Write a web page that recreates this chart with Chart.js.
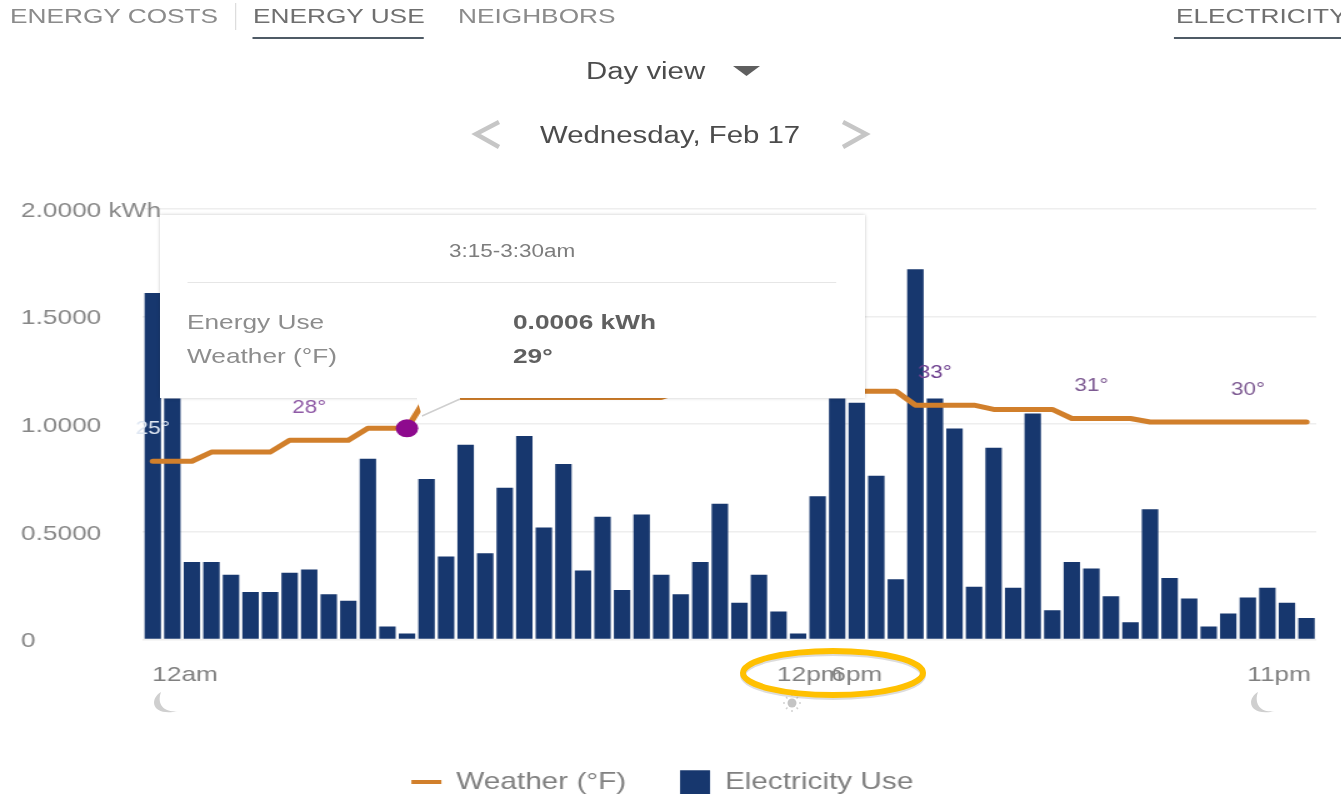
<!DOCTYPE html>
<html><head><meta charset="utf-8">
<script src="https://cdn.jsdelivr.net/npm/chart.js@4"></script>
<style>
html,body{margin:0;padding:0;background:#fff;overflow:hidden;width:1341px;height:804px}
#stretch{position:absolute;left:0;top:0;width:1073px;height:804px;transform:scaleX(1.25);transform-origin:0 0;filter:blur(.55px);font-family:"Liberation Sans",Arial,sans-serif;overflow:hidden}
canvas{position:absolute;left:0;top:0}
.t{position:absolute;white-space:nowrap;line-height:1;transform:translateY(-50%)}
.tab{font-size:21px;color:#8b8b8b}
.nav{font-size:23.5px;color:#4c4c4c}
.rule{position:absolute;height:2px;background:#4f5b66}
#tip{position:absolute;left:calc(160px/1.25);top:215px;width:calc(705px/1.25);height:183px;background:#fff;box-shadow:0 0 3px rgba(0,0,0,.22)}
.tipl{font-size:21px;color:#8d8d8d}
.tipv{font-size:21px;font-weight:bold;color:#606060}
#marks{position:absolute;left:0;top:0}
</style></head>
<body>
<div id="stretch">
  <canvas id="c" width="1073" height="804"></canvas>
  <div id="tip"></div>
  <div class="t tab" style="left:calc(10px/1.25);top:15px">ENERGY COSTS</div>
  <div class="t tab" style="left:calc(253px/1.25);top:15px;color:#6f6f6f">ENERGY USE</div>
  <div class="t tab" style="left:calc(458px/1.25);top:15px">NEIGHBORS</div>
  <div class="t tab" style="left:calc(1176px/1.25);top:15px;color:#6f6f6f">ELECTRICITY</div>
  <div class="rule" style="left:calc(253px/1.25);width:calc(171px/1.25);top:37px"></div>
  <div class="rule" style="left:calc(1174px/1.25);width:calc(167px/1.25);top:37px"></div>
  <div style="position:absolute;left:calc(235px/1.25);top:3px;width:1px;height:27px;background:#ddd"></div>
  <div class="t nav" style="left:calc(586px/1.25);top:72px">Day view</div>
  <div class="t nav" style="left:calc(540px/1.25);top:136px">Wednesday, Feb 17</div>
  <div class="t" style="left:calc(449px/1.25);top:251px;font-size:18px;color:#7d7d7d">3:15-3:30am</div>
  <div style="position:absolute;left:calc(188px/1.25);top:282px;width:calc(648px/1.25);height:1px;background:#e6e6e6"></div>
  <div class="t tipl" style="left:calc(187px/1.25);top:321px">Energy Use</div>
  <div class="t tipl" style="left:calc(187px/1.25);top:355px">Weather (°F)</div>
  <div class="t tipv" style="left:calc(513px/1.25);top:321px">0.0006 kWh</div>
  <div class="t tipv" style="left:calc(513px/1.25);top:355px">29°</div>
</div>
<svg id="marks" width="1341" height="804" viewBox="0 0 1341 804" fill="none">
  <path d="M733 66H760L746.5 76Z" fill="#5f5f5f"/>
  <path d="M499 122L476 134L499 147" stroke="#c6c6c6" stroke-width="4.5"/>
  <path d="M843 122L866 134L843 147" stroke="#c6c6c6" stroke-width="4.5"/>
  <path d="M417 397V399L422 416L460 399V397Z" fill="#fff"/>
  <path d="M422 416L460 399" stroke="#cfcfcf" stroke-width="1.5"/>
  <path d="M161 692C148 700 153 717 178 711C166 713 156 706 161 692Z" fill="#cfcfcf"/>
  <path d="M1258 692C1245 700 1250 717 1275 711C1263 713 1253 706 1258 692Z" fill="#cfcfcf"/>
  <circle cx="792" cy="703" r="4.5" fill="#c4c4c4"/>
  <path d="M792 694v2M792 710v2M783 703h2M799 703h2M786 697l1.5 1.5M798 697l-1.5 1.5M786 709l1.5-1.5M798 709l-1.5-1.5" stroke="#d2d2d2" stroke-width="1.5"/>
  <ellipse cx="833" cy="675" rx="90" ry="22" stroke="#9a9a9a" stroke-opacity=".35" stroke-width="6"/>
  <ellipse cx="833" cy="673" rx="90" ry="22" stroke="#ffc000" stroke-width="6"/>
</svg>
<script>
const categories = Array.from({length:60},(_,i)=>{
  const h=Math.floor(i/4),m=(i%4)*15;
  return (h%12||12)+':'+String(m).padStart(2,'0')+(h<12?'am':'pm');
});
const energyUse = [1.61,1.12,0.36,0.36,0.30,0.22,0.22,0.31,0.325,0.21,0.18,0.84,0.06,0.027,0.745,0.385,0.905,0.40,0.705,0.945,
  0.52,0.815,0.32,0.57,0.23,0.58,0.30,0.21,0.36,0.63,0.17,0.30,0.13,0.027,0.665,1.12,1.10,0.76,0.28,1.72,
  1.12,0.98,0.245,0.89,0.24,1.05,0.135,0.36,0.33,0.20,0.08,0.605,0.285,0.19,0.06,0.12,0.195,0.24,0.17,0.10];
const weatherF = [25,25,25,26.3,26.3,26.3,26.3,28,28,28,28,29.7,29.7,29.7,34.1,34.1,34.1,34.1,34.1,34.1,
  34.1,34.1,34.1,34.1,34.1,34.1,34.1,35,35,35,35,35,35,35,35,35,35,35,35,33,
  33,33,33,32.4,32.4,32.4,32.4,31.1,31.1,31.1,31.1,30.6,30.6,30.6,30.6,30.6,30.6,30.6,30.6,30.6];
const tempLabels = [{i:0,t:'25°',c:'#dfe7f3'},{i:8,t:'28°',c:'#8f5aa6'},{i:40,t:'33°',c:'#6d3f8e'},{i:48,t:'31°',c:'#7d5a92'},{i:56,t:'30°',c:'#7d5a92'}];
const hoverIndex = 13;
const timeTicks = [{v:1.65,t:'12am'},{v:33.6,t:'12pm'},{v:36,t:'6pm'},{v:57.6,t:'11pm'}];
const FONT='"Liberation Sans",Arial,sans-serif';
const tempLabelPlugin={id:'tempLabels',
  afterLayout(chart){chart.legend.left-=5;chart.legend.right-=5;},
  afterDatasetsDraw(chart){
  const {ctx,scales}=chart;ctx.save();
  ctx.font='18px '+FONT;ctx.textAlign='center';ctx.textBaseline='middle';
  tempLabels.forEach(l=>{ctx.fillStyle=l.c;
    ctx.fillText(l.t,scales.x.getPixelForValue(l.i),scales.yT.getPixelForValue(weatherF[l.i])-32);});
  ctx.restore();}};
new Chart(document.getElementById('c'),{
  data:{labels:categories,datasets:[
    {type:'line',label:'Weather (°F)',data:weatherF,yAxisID:'yT',xAxisID:'x',order:0,
     borderColor:'#d17f2b',borderWidth:5,tension:0,borderCapStyle:'round',borderJoinStyle:'round',
     pointRadius:c=>c.dataIndex===hoverIndex?9:0,pointBackgroundColor:'#8e0a8e',pointBorderWidth:0},
    {type:'bar',label:'Electricity Use',data:energyUse,yAxisID:'y',xAxisID:'x',order:1,
     backgroundColor:'#17376e',barPercentage:0.84,categoryPercentage:1}
  ]},
  options:{responsive:false,animation:false,
    layout:{padding:{left:16.8,right:20,top:209,bottom:0}},
    plugins:{tooltip:{enabled:false},
      legend:{position:'bottom',labels:{usePointStyle:true,pointStyleWidth:24,padding:43,color:'#808080',font:{family:FONT,size:23.8},
        generateLabels:ch=>ch.data.datasets.map((d,i)=>({text:d.label,datasetIndex:i,fontColor:'#808080',
          fillStyle:d.type==='bar'?d.backgroundColor:d.borderColor,strokeStyle:d.type==='bar'?d.backgroundColor:d.borderColor,
          lineWidth:d.type==='bar'?0:4,pointStyle:d.type==='bar'?'rect':'line'}))}}},
    scales:{
      x:{type:'category',display:false,offset:true},
      xT:{type:'linear',position:'bottom',min:-0.5,max:59.5,
        afterBuildTicks:s=>{s.ticks=timeTicks.map(k=>({value:k.v}));},
        afterFit:s=>{s.height=87.8;},
        grid:{display:false,drawTicks:false},border:{display:false},
        ticks:{autoSkip:false,maxRotation:0,minRotation:0,padding:23,color:'#808080',font:{family:FONT,size:21},
          callback:v=>(timeTicks.find(k=>k.v===v)||{}).t}},
      y:{position:'left',min:0,max:2,
        afterFit:s=>{s.width=97.6;},
        grid:{color:'#eeeeee',lineWidth:1.5,drawTicks:false},border:{display:false},
        ticks:{stepSize:0.5,mirror:true,padding:-97.6,labelOffset:2,color:'#888888',font:{family:FONT,size:21},
          callback:v=>v===0?'0':v===2?'2.0000 kWh':v.toFixed(4)}},
      yT:{position:'right',display:false,min:-0.43,max:61}
    }},
  plugins:[tempLabelPlugin]
});
</script>
</body></html>
